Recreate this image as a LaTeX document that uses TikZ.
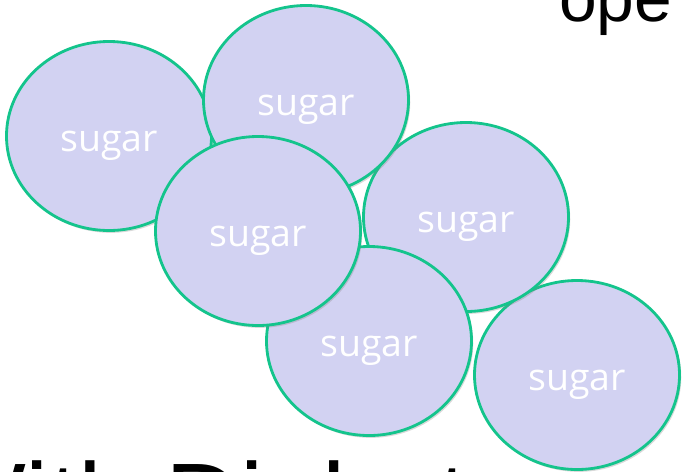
\documentclass[tikz,border=0pt]{standalone}
\usepackage{fontspec}
\setmainfont{Liberation Sans}
\newfontfamily\sugarfont{Open Sans}
\usetikzlibrary{shapes.geometric,shadows}
\definecolor{sugarfill}{RGB}{210,210,242}
\definecolor{sugaredge}{RGB}{20,196,140}
\begin{document}
\begin{tikzpicture}[x=0.03cm, y=-0.03cm,
	sugarblob/.style={ellipse, draw=sugaredge, fill=sugarfill, line width=2.4pt,
		minimum width=6.15cm, minimum height=5.67cm, text=white,
		font=\sugarfont\fontsize{32pt}{34pt}\selectfont, text depth=0pt, text height=0.9cm,
		drop shadow={opacity=0.3, shadow xshift=1.5pt, shadow yshift=-2pt}},
	bigtext/.style={anchor=base west, inner sep=0pt}]
	\useasboundingbox (0,0) rectangle (683,471);
	\node[bigtext, font=\fontsize{57.8pt}{60pt}\selectfont] (hope) at (559,21) {ope};
	\node[bigtext, font=\fontsize{89.3pt}{92pt}\selectfont] (title) at (-73,536) {With Diabet};
	\node[sugarblob] (s1) at (109,136) {sugar};
	\node[sugarblob] (s6) at (577,375) {sugar};
	\node[sugarblob] (s4) at (466,217) {sugar};
	\node[sugarblob] (s2) at (306,100) {sugar};
	\node[sugarblob] (s5) at (369,341) {sugar};
	\node[sugarblob] (s3) at (258,231) {sugar};
\end{tikzpicture}
\end{document}
